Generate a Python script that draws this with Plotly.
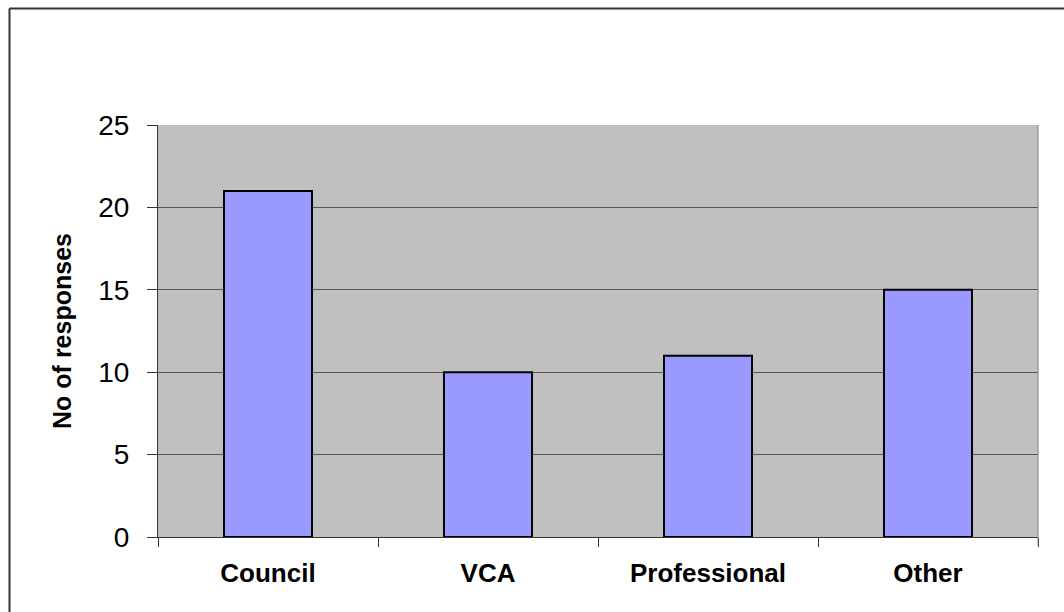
import plotly.graph_objects as go

categories = ["Council", "VCA", "Professional", "Other"]
responses = [21, 10, 11, 15]
y_ticks = [0, 5, 10, 15, 20, 25]

W, H = 1064, 612
L, T = 158, 125
R = W - 1038
B = H - 537
pw, ph = W - L - R, H - T - B

def px_x(px):
    return (px - L) / pw

def px_y(py):
    return (H - B - py) / ph

FONT = "Arial, Liberation Sans, sans-serif"

fig = go.Figure(go.Bar(
    x=categories, y=responses,
    marker=dict(color="#9999FF", line=dict(color="#000000", width=2)),
    width=0.4,
))

fig.update_layout(
    width=W, height=H,
    margin=dict(l=L, r=R, t=T, b=B, pad=0),
    paper_bgcolor="white", plot_bgcolor="#C0C0C0",
    showlegend=False,
    font=dict(family=FONT, color="black"),
    xaxis=dict(
        tickson="boundaries", ticks="outside", ticklen=9, tickcolor="#333",
        showline=True, linecolor="#333", linewidth=1,
        tickfont=dict(size=26, family=FONT, color="black", weight="bold"),
        ticklabelstandoff=13,
        showgrid=False,
    ),
    yaxis=dict(
        range=[0, 25], tickvals=y_ticks, ticks="outside", ticklen=10, tickcolor="#333",
        showline=True, linecolor="#333", linewidth=1,
        gridcolor="#555", gridwidth=1,
        tickfont=dict(size=28, family=FONT, color="black"),
        ticklabelstandoff=12,
        title=dict(text="No of responses", font=dict(size=25, family=FONT, color="black", weight="bold"), standoff=19),
        zeroline=False,
    ),
    shapes=[
        dict(type="line", xref="paper", yref="paper", x0=1, x1=1, y0=0, y1=1,
             line=dict(color="#808080", width=1)),
        dict(type="line", xref="paper", yref="paper", x0=1, x1=1, y0=px_y(546), y1=0,
             line=dict(color="#808080", width=1)),
        dict(type="line", xref="paper", yref="paper", x0=px_x(9.5), x1=px_x(1100), y0=px_y(8.5), y1=px_y(8.5),
             line=dict(color="#333", width=2)),
        dict(type="line", xref="paper", yref="paper", x0=px_x(9.5), x1=px_x(9.5), y0=px_y(8.5), y1=px_y(650),
             line=dict(color="#333", width=2)),
    ],
)

fig.write_html(
    "out.html",
    config={"displayModeBar": False},
    post_script="document.body.style.margin='0';document.body.style.overflow='hidden';",
)
